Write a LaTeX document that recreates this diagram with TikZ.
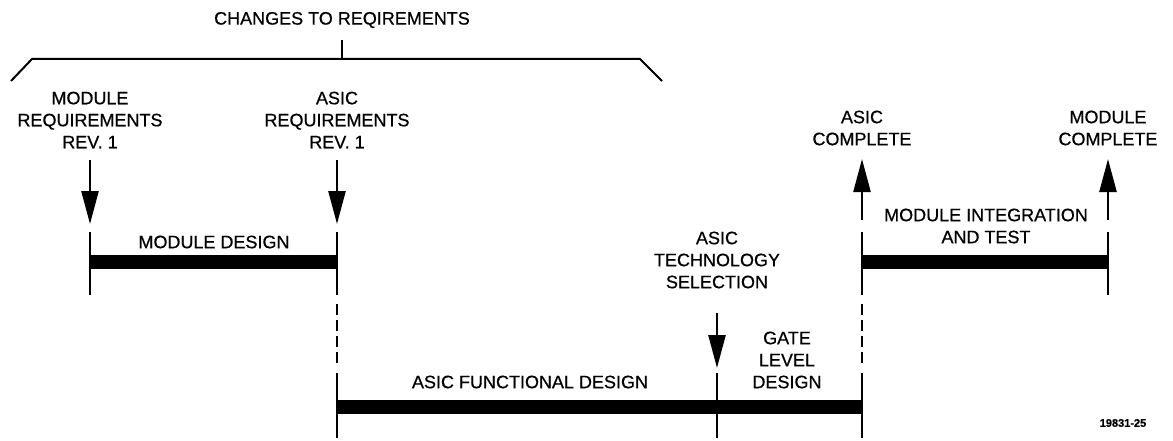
\documentclass[tikz,border=0pt]{standalone}
\usepackage{fontspec}
\setmainfont{Liberation Sans}[FakeBold=0.6]
\usetikzlibrary{arrows.meta,positioning}

\begin{document}
\begin{tikzpicture}[x=1pt,y=-1pt,
  >={Triangle[length=33pt,width=17pt]},
  lbl/.style={align=center,font=\fontsize{18}{22}\selectfont,inner sep=0pt},
  tick/.style={line width=2.5pt},
  dashtick/.style={line width=2.5pt,dash pattern=on 11pt off 5pt},
  bar/.style={line width=14pt},
  marker/.style={line width=2.5pt,->}]
\useasboundingbox (0,0) rectangle (1173,441);
\def\xa{90}
\def\xb{337}
\def\xc{717}
\def\xd{862}
\def\xe{1108}
\def\ya{262}
\def\yb{407}

% changes bracket
\node[lbl] (chg) at (342,20) {CHANGES TO REQIREMENTS};
\coordinate (brtop) at (342,40);
\coordinate (brmid) at (342,59);
\draw[tick] (brtop) -- (brmid);
\draw[line width=2pt] (11,81) -- (32,59) -- (640,59) -- (662,81);

% milestones
\node[lbl] (modreq) at (\xa,120) {MODULE\\REQUIREMENTS\\REV. 1};
\node[lbl] (asicreq) at (\xb,120) {ASIC\\REQUIREMENTS\\REV. 1};
\node[lbl] (asiccpl) at (\xd,128) {ASIC\\COMPLETE};
\node[lbl] (modcpl) at (\xe,128) {MODULE\\COMPLETE};
\node[lbl] (tech) at (\xc,260) {ASIC\\TECHNOLOGY\\SELECTION};

\foreach \x/\n in {\xa/a,\xb/b} {
	\coordinate (dn\n) at (\x,160);
	\coordinate (tk\n) at (\x,224);
	\draw[marker] (dn\n) -- (tk\n);
}
\foreach \x/\n in {\xd/d,\xe/e} {
	\coordinate (up\n) at (\x,220);
	\coordinate (tk\n) at (\x,159);
	\draw[marker] (up\n) -- (tk\n);
}
\coordinate (dnc) at (\xc,313);
\coordinate (tkc) at (\xc,368);
\draw[marker] (dnc) -- (tkc);

% activity bars
\foreach \x in {\xa,\xb,\xd,\xe} {
	\draw[tick] (\x,232) -- (\x,295);
}
\foreach \x in {\xb,\xd} {
	\draw[dashtick] (\x,304) -- (\x,367);
}
\foreach \x in {\xb,\xc,\xd} {
	\draw[tick] (\x,373) -- (\x,438);
}
\draw[bar] (\xa,\ya) -- (\xb,\ya);
\draw[bar] (\xd,\ya) -- (\xe,\ya);
\draw[bar] (\xb,\yb) -- (\xd,\yb);

\node[lbl] (moddes) at (214,242) {MODULE DESIGN};
\node[lbl] (modint) at (986,226) {MODULE INTEGRATION\\AND TEST};
\node[lbl] (funcdes) at (530,382) {ASIC FUNCTIONAL DESIGN};
\node[lbl] (gate) at (787,360) {GATE\\LEVEL\\DESIGN};
\node[lbl,font=\bfseries\fontsize{11}{13}\selectfont] (fig) at (1123,423) {19831-25};

\end{tikzpicture}
\end{document}
